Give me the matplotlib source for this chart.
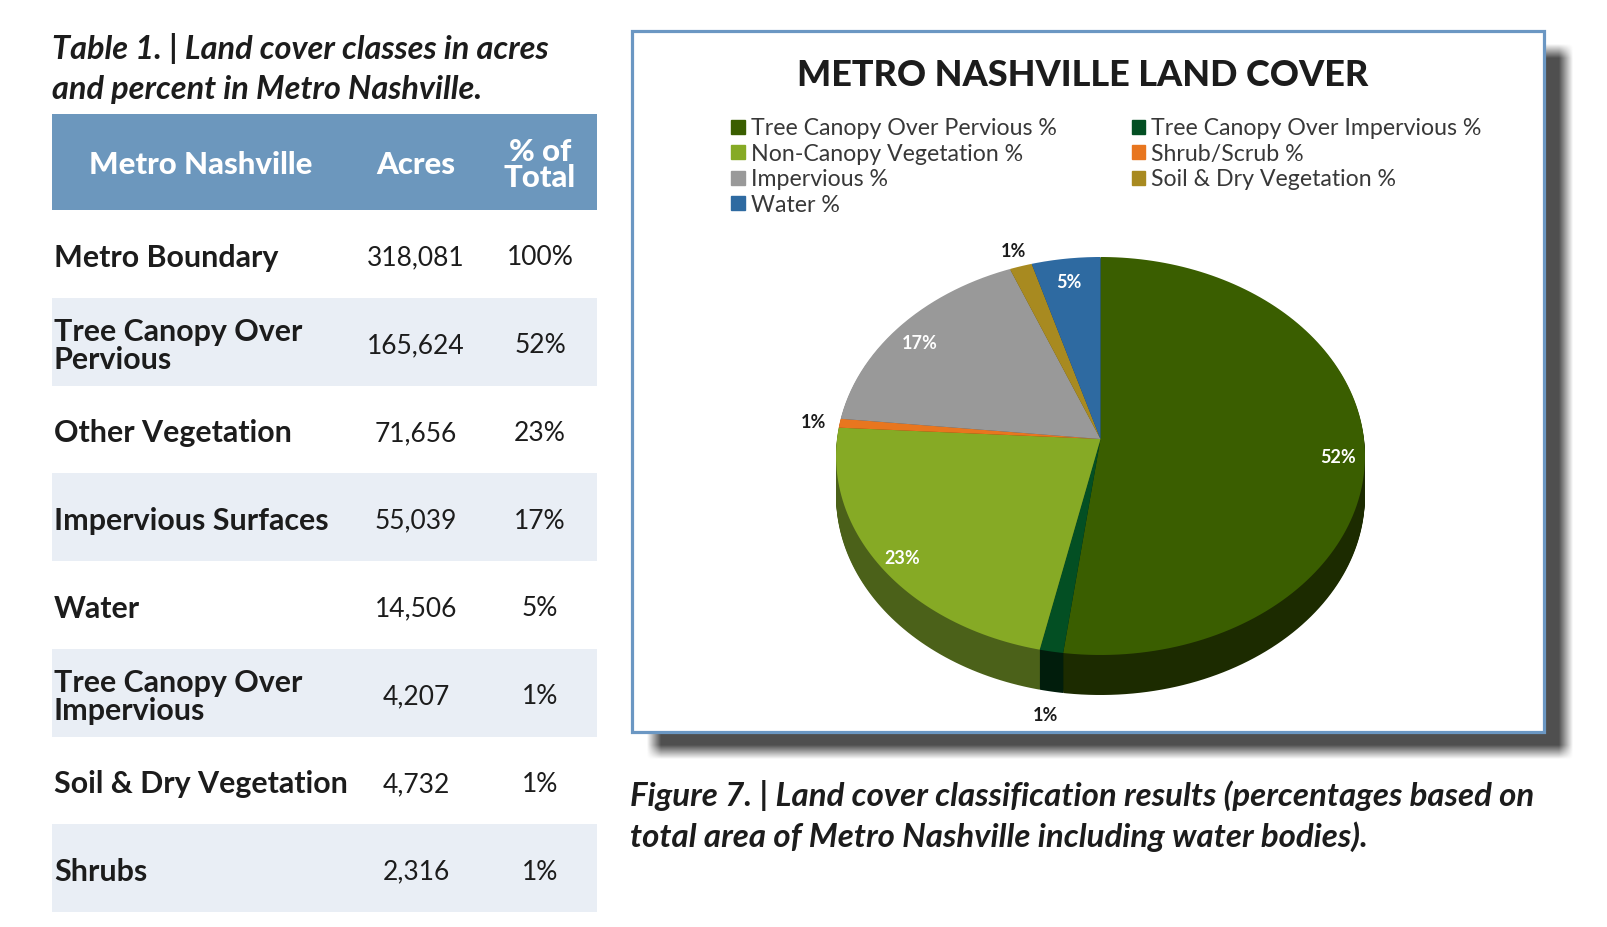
import numpy as np
import matplotlib
matplotlib.use("Agg")
import matplotlib.pyplot as plt
import matplotlib.transforms as mtransforms
from matplotlib.patches import Rectangle, Patch
from matplotlib.path import Path

W, H = 1608, 928
plt.rcParams["font.family"] = ["Lato", "DejaVu Sans"]
INK = "#1c1c1c"
HEAD = "#6c97bd"
SHADE = "#e9eef5"
BORDER = "#6b97c3"

# --- table data ---
row_labels = ["Metro Boundary", "Tree Canopy Over\nPervious", "Other Vegetation",
              "Impervious Surfaces", "Water", "Tree Canopy Over\nImpervious",
              "Soil & Dry Vegetation", "Shrubs"]
row_acres = [318081, 165624, 71656, 55039, 14506, 4207, 4732, 2316]
row_pct = ["100%", "52%", "23%", "17%", "5%", "1%", "1%", "1%"]
col_heads = ["Metro Nashville", "Acres", "% of\nTotal"]

# --- pie data ---
pie_labels = ["Tree Canopy Over Pervious %", "Tree Canopy Over Impervious %",
              "Non-Canopy Vegetation %", "Shrub/Scrub %", "Impervious %",
              "Soil & Dry Vegetation %", "Water %"]
pie_acres = [165624, 4207, 71656, 2316, 55039, 4732, 14506]
pie_total = 318081
pie_colors = ["#3a5e00", "#034f23", "#86aa25", "#e8761f", "#999999", "#a88a20", "#2e6aa1"]
side_colors = ["#1c2b00", "#011d0c", "#4b6119", "#7a3c0e", "#4e4e4e", "#5a4a10", "#173859"]


class Tilt(mtransforms.Transform):
    """cheap perspective so the back of the disc is squashed a little"""
    input_dims = output_dims = 2
    has_inverse = False

    def __init__(self, a, b):
        super().__init__()
        self.a, self.b = a, b

    def transform_non_affine(self, xy):
        xy = np.asarray(xy, float)
        w = 1 + self.a * xy[:, 1]
        return np.column_stack([xy[:, 0] / w, self.b * xy[:, 1] / w])

    def transform_path_non_affine(self, path):
        polys = path.to_polygons(mtransforms.Affine2D().scale(1000), closed_only=False)
        verts, codes = [], []
        for p in polys:
            p = np.asarray(p) / 1000
            verts.append(p)
            codes += [Path.MOVETO] + [Path.LINETO] * (len(p) - 1)
        return Path(self.transform_non_affine(np.concatenate(verts)), codes)


fig = plt.figure(figsize=(W / 100, H / 100), dpi=100)
bg = fig.add_axes([0, 0, 1, 1])

# ---------------- table ----------------
title_a = bg.text(52, 48, "Table 1. | Land cover classes in acres", fontsize=18,
                  fontweight="bold", style="italic", color=INK, va="center")
title_b = bg.text(52, 89, "and percent in Metro Nashville.", fontsize=18,
                  fontweight="bold", style="italic", color=INK, va="center")

TX0, TX1, HY0, HY1, ROW_H = 52, 597, 115, 211, 87.75
col_x = [201, 416, 540]
bg.add_patch(Rectangle((TX0, HY0), TX1 - TX0, HY1 - HY0, color=HEAD, lw=0))
heads = []
for x, s in zip(col_x, col_heads):
    heads.append(bg.text(x, (HY0 + HY1) / 2 + 2, s, ha="center", va="center", color="white",
                         fontsize=18, fontweight="black", linespacing=0.95))

labs, nums = [], []
for i, (lab, ac, pc) in enumerate(zip(row_labels, row_acres, row_pct)):
    y0 = HY1 + i * ROW_H
    if i % 2 == 1:
        bg.add_patch(Rectangle((TX0, y0), TX1 - TX0, ROW_H, color=SHADE, lw=0))
    yc = y0 + ROW_H / 2 + 3
    labs.append(bg.text(54, yc, lab, ha="left", va="center", color=INK, fontsize=18,
                        fontweight="bold", linespacing=1.0))
    nums.append(bg.text(col_x[1], yc, f"{ac:,}", ha="center", va="center", color=INK, fontsize=19))
    nums.append(bg.text(col_x[2], yc, pc, ha="center", va="center", color=INK, fontsize=19))

# ---------------- chart box + shadow ----------------
sx0, sx1, sy0, sy1, blur = 654, 1566, 52, 753, 14
gx = np.arange(630, 1595) + 0.5
gy = np.arange(40, 785) + 0.5
fx = np.clip(np.minimum(gx - sx0, sx1 - gx) / blur + 0.5, 0, 1)
fy = np.clip(np.minimum(gy - sy0, sy1 - gy) / blur + 0.5, 0, 1)
alpha = np.outer(fy, fx)
rgba = np.zeros(alpha.shape + (4,))
rgba[..., :3] = 0.31
rgba[..., 3] = alpha
bg.imshow(rgba, extent=(630, 1595, 785, 40), aspect="auto", interpolation="bilinear", zorder=0)
bg.add_patch(Rectangle((632, 32), 912, 701, fc="white", ec=BORDER, lw=2.3, zorder=2))

chart_title = bg.text(1083, 75, "METRO NASHVILLE LAND COVER", ha="center", va="center",
                      color=INK, fontsize=22, fontweight="black", zorder=3)

order = [0, 2, 4, 6, 1, 3, 5]  # legend reads across rows
handles = [Patch(color=pie_colors[k], label=pie_labels[k]) for k in order]
leg = bg.legend(handles=handles, loc="upper left", bbox_to_anchor=(731, 118),
                bbox_transform=bg.transData, ncol=2, frameon=False, fontsize=15,
                handlelength=0.65, handleheight=0.65, handletextpad=0.3,
                columnspacing=3.6, labelspacing=0.22, borderpad=0, borderaxespad=0)
for t in leg.get_texts():
    t.set_color("#383838")

cap_a = bg.text(630, 795, "Figure 7. | Land cover classification results (percentages based on",
                fontsize=18, fontweight="bold", style="italic", color=INK, va="center")
cap_b = bg.text(630, 837, "total area of Metro Nashville including water bodies).",
                fontsize=18, fontweight="bold", style="italic", color=INK, va="center")

bg.set_xlim(0, W)
bg.set_ylim(H, 0)
bg.axis("off")

# ---------------- pie ----------------
CX, CY, R = 1100.5, 440, 263.5
DEPTH = 40 / R
tilt = Tilt(0.0854, 0.7497)
px0, px1, py0, py1 = 634, 1542, 34, 731
pa = fig.add_axes([px0 / W, 1 - py1 / H, (px1 - px0) / W, (py1 - py0) / H], zorder=3)
pa.patch.set_visible(False)

nlay = 40
for k in range(nlay, 0, -1):
    shift = mtransforms.Affine2D().translate(0, -DEPTH * k / nlay)
    ws, _ = pa.pie(pie_acres, colors=side_colors, startangle=90, counterclock=False,
                   wedgeprops=dict(linewidth=0))
    for w in ws:
        w.set_transform(tilt + shift + pa.transData)

wedges, _ = pa.pie(pie_acres, colors=pie_colors, startangle=90, counterclock=False,
                   wedgeprops=dict(linewidth=0))
for w in wedges:
    w.set_transform(tilt + pa.transData)

drop = mtransforms.Affine2D().translate(0, -DEPTH)
nudge = mtransforms.Affine2D().translate(0, -6 / R)
pie_txt = []
for w, v in zip(wedges, pie_acres):
    pct = 100 * v / pie_total
    mid = np.deg2rad((w.theta1 + w.theta2) / 2)
    if pct >= 3:
        r, col, tr = 0.9, "white", tilt + nudge + pa.transData
    else:
        r, col = 1.1, INK
        tr = (tilt + drop + pa.transData) if np.sin(mid) < 0 else (tilt + pa.transData)
    pie_txt.append(pa.text(r * np.cos(mid), r * np.sin(mid), f"{pct:.0f}%", transform=tr,
                           ha="center", va="center", color=col, fontsize=11, fontweight="bold"))

pa.set_aspect("auto")
pa.set_xlim((px0 - CX) / R, (px1 - CX) / R)
pa.set_ylim(-(py1 - CY) / R, (CY - py0) / R)
pa.axis("off")

# ---------------- size the text to the reference widths ----------------
rend = fig.canvas.get_renderer()


def fit(group, ref, width):
    s = width / ref.get_window_extent(rend).width
    for t in group:
        t.set_fontsize(t.get_fontsize() * s)


fit([title_a, title_b], title_a, 496)
fit(labs, labs[6], 294)
fit(heads, heads[0], 224)
fit([chart_title], chart_title, 571)
fit(leg.get_texts(), leg.get_texts()[0], 306)
fit([cap_a, cap_b], cap_a, 905)
fit(pie_txt, pie_txt[0], 36)

fig.savefig("out.png", dpi=100, facecolor="white")
